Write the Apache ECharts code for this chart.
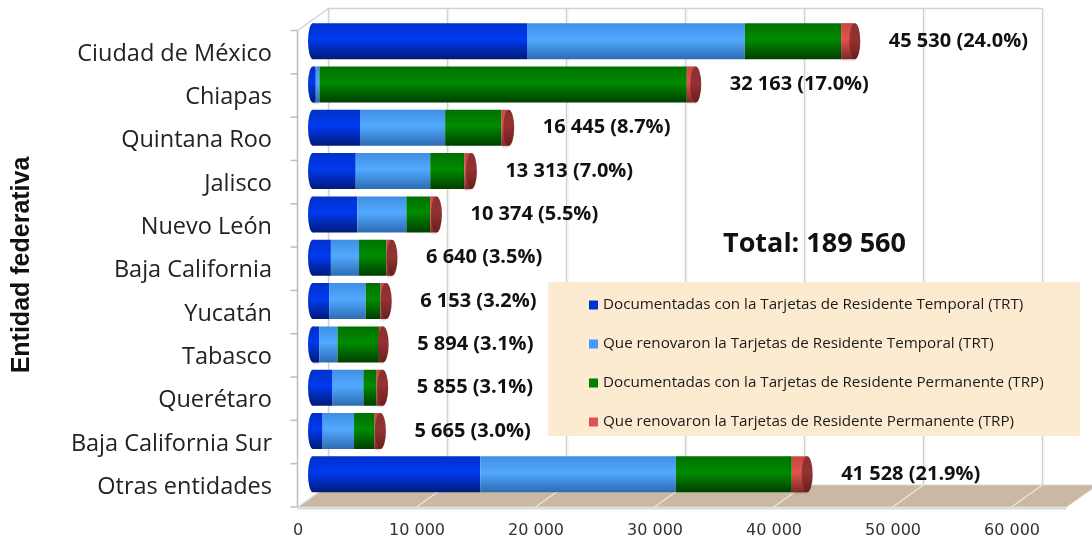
<!DOCTYPE html>
<html><head><meta charset="utf-8">
<script src="https://cdn.jsdelivr.net/npm/echarts@6/dist/echarts.min.js"></script>
<style>html,body{margin:0;padding:0;background:#fff}#c{width:1092px;height:539px}</style>
</head><body><div id="c"></div>
<script>
const categories = ['Ciudad de México','Chiapas','Quintana Roo','Jalisco','Nuevo León','Baja California','Yucatán','Tabasco','Querétaro','Baja California Sur','Otras entidades'];
const seriesNames = [
  'Documentadas con la Tarjetas de Residente Temporal (TRT)',
  'Que renovaron la Tarjetas de Residente Temporal (TRT)',
  'Documentadas con la Tarjetas de Residente Permanente (TRP)',
  'Que renovaron la Tarjetas de Residente Permanente (TRP)'
];
const trtDoc = [17985, 200, 3950, 3590, 3730, 1503, 1360, 530, 1645, 810, 14060];
const trtRen = [18295, 350, 7155, 6263, 4120, 2365, 3070, 1530, 2590, 2640, 16430];
const trpDoc = [8105, 30860, 4735, 2864, 2003, 2310, 1250, 3480, 1110, 1730, 9740];
const trpRen = [1145, 753, 605, 596, 521, 462, 473, 354, 510, 485, 1298];
const xTicks = [0, 10000, 20000, 30000, 40000, 50000, 60000];
const axisTitle = 'Entidad federativa';

const FONT = '"Open Sans","Noto Sans",sans-serif';
function fmt(n){ return String(n).replace(/\B(?=(\d{3})+(?!\d))/g, ' '); }
const totals = categories.map((_, i) => trtDoc[i] + trtRen[i] + trpDoc[i] + trpRen[i]);
const grand = totals.reduce((a, b) => a + b, 0);

function vgrad(top, mid, bot){
  return new echarts.graphic.LinearGradient(0,0,0,1,[
    {offset:0,color:top},{offset:0.45,color:mid},{offset:1,color:bot}]);
}
const legendColors = ['#0033cc','#4499ff','#008000','#e05050'];
const fills = [
  vgrad('#0032cc','#003af2','#001a78'),
  vgrad('#3f8fe4','#52a9ff','#2c6cb4'),
  vgrad('#007000','#008c00','#003e00'),
  vgrad('#c8443f','#e2544e','#7e2626')
];
const dataSets = [trtDoc, trtRen, trpDoc, trpRen];
const BW = 36;

const chart = echarts.init(document.getElementById('c'), null, {renderer:'canvas'});
const series = seriesNames.map((n, i) => ({
  name: n, type: 'bar', stack: 'total', barWidth: BW, z: 2,
  data: dataSets[i],
  itemStyle: {color: fills[i], shadowColor: 'rgba(0,0,0,0.22)', shadowBlur: 2, shadowOffsetY: 1},
  label: i === 3 ? {
    show: true, position: 'right', distance: 34,
    fontFamily: FONT, fontSize: 20, fontWeight: 'bold', color: '#111',
    formatter: p => fmt(totals[p.dataIndex]) + ' (' + (totals[p.dataIndex] / grand * 100).toFixed(1) + '%)'
  } : {show: false}
}));
// cylinder end caps
series.push({
  name: 'capStart', type: 'pictorialBar', symbol: 'circle', symbolSize: [10, BW],
  symbolPosition: 'start', symbolOffset: ['-50%', 0], barGap: '-100%', barWidth: BW, z: 1,
  data: totals, itemStyle: {color: vgrad('#0030c0','#003ae8','#001a78')}, silent: true
});
series.push({
  name: 'capEnd', type: 'pictorialBar', symbol: 'circle', symbolSize: [11, BW],
  symbolPosition: 'end', symbolOffset: ['50%', 0], barGap: '-100%', barWidth: BW, z: 3,
  data: totals, itemStyle: {color: vgrad('#8a3030','#943232','#6a1e1e')}, silent: true
});

const option = {
  animation: false,
  grid: {left: 313, right: 65, top: 19.5, bottom: 42},
  legend: {
    orient: 'vertical', left: 584, top: 292.5, itemWidth: 9, itemHeight: 9, itemGap: 24,
    icon: 'rect',
    textStyle: {fontFamily: FONT, fontSize: 15.2, color: '#1a1a1a', lineHeight: 15},
    data: seriesNames.map((n, i) => ({name: n, itemStyle: {color: legendColors[i]}}))
  },
  xAxis: {
    type: 'value', min: xTicks[0], max: xTicks[xTicks.length-1], interval: xTicks[1]-xTicks[0],
    axisLine: {show: false}, axisTick: {show: false}, splitLine: {show: false},
    axisLabel: {margin: 27, padding: [0, 30, 0, 0], fontFamily: '"DejaVu Sans",sans-serif', fontSize: 16, color: '#333', formatter: v => fmt(v)}
  },
  yAxis: {
    type: 'category', data: categories, inverse: true,
    axisLine: {show: false}, axisTick: {show: false},
    axisLabel: {margin: 41, verticalAlign: 'top', padding: [1, 0, 0, 0], fontFamily: FONT, fontSize: 23.5, color: '#222'}
  },
  series: series
};
chart.setOption(option);

const p = (v, c) => chart.convertToPixel({xAxisIndex: 0, yAxisIndex: 0}, [v, c]);
const DX = 15.5, DY = 11;
const x0 = p(xTicks[0], categories[0])[0];
const xMax = p(xTicks[xTicks.length-1], categories[0])[0];
const band = p(0, categories[1])[1] - p(0, categories[0])[1];
const yTop = p(0, categories[0])[1] - band / 2;
const yBot = yTop + band * categories.length;
const ext = 55;
const gray = '#d2d2d2';
const g = [];
// floor
g.push({type:'polygon', z:0, shape:{points:[[x0-DX,yBot+DY],[xMax+ext-DX,yBot+DY],[xMax+ext+DX,yBot-DY],[x0+DX,yBot-DY]]},
  style:{fill:'#c9b9a3', stroke:'#d6d6d6', lineWidth:1}});
g.push({type:'line', z:0, shape:{x1:x0-DX,y1:yBot+DY+1.5,x2:xMax+ext-DX,y2:yBot+DY+1.5}, style:{stroke:'#d9d9d9', lineWidth:2}});
xTicks.forEach(t => {
  const x = p(t, categories[0])[0];
  g.push({type:'line', z:0, shape:{x1:x-DX,y1:yBot+DY,x2:x+DX,y2:yBot-DY}, style:{stroke:'#ece5db', lineWidth:1.5}});
  g.push({type:'line', z:0, shape:{x1:x+DX,y1:yTop-DY,x2:x+DX,y2:yBot-DY}, style:{stroke:gray, lineWidth:1.5}});
  g.push({type:'line', z:0, shape:{x1:x+DX+1.5,y1:yTop-DY,x2:x+DX+1.5,y2:yBot-DY}, style:{stroke:'#efefef', lineWidth:1}});
});
g.push({type:'line', z:0, shape:{x1:x0+DX,y1:yTop-DY,x2:xMax+DX,y2:yTop-DY}, style:{stroke:gray, lineWidth:1.5}});
g.push({type:'line', z:0, shape:{x1:x0-DX,y1:yTop+DY,x2:x0+DX,y2:yTop-DY}, style:{stroke:gray, lineWidth:1.5}});
g.push({type:'line', z:0, shape:{x1:x0-DX,y1:yTop+DY,x2:x0-DX,y2:yBot+DY}, style:{stroke:'#bdbdbd', lineWidth:1.5}});
for (let k = 0; k <= categories.length; k++) {
  const y = yTop + DY + k * band;
  g.push({type:'line', z:0, shape:{x1:x0-DX-7,y1:y,x2:x0-DX,y2:y}, style:{stroke:'#bdbdbd', lineWidth:1.5}});
}
// legend background
g.push({type:'rect', z:1, shape:{x:548,y:282,width:532,height:154}, style:{fill:'#fdebd1'}});
// total text
g.push({type:'text', z:5, left:723, top:231, style:{text:'Total: ' + fmt(grand), font:'bold 27px ' + FONT, fill:'#111'}});
// axis title
g.push({type:'text', z:5, x:22, y:265, rotation: Math.PI/2,
  style:{text: axisTitle, font:'bold 25px "Liberation Sans",Arial,sans-serif', fill:'#111', align:'center', verticalAlign:'middle'}});
chart.setOption({graphic: g});
</script></body></html>
